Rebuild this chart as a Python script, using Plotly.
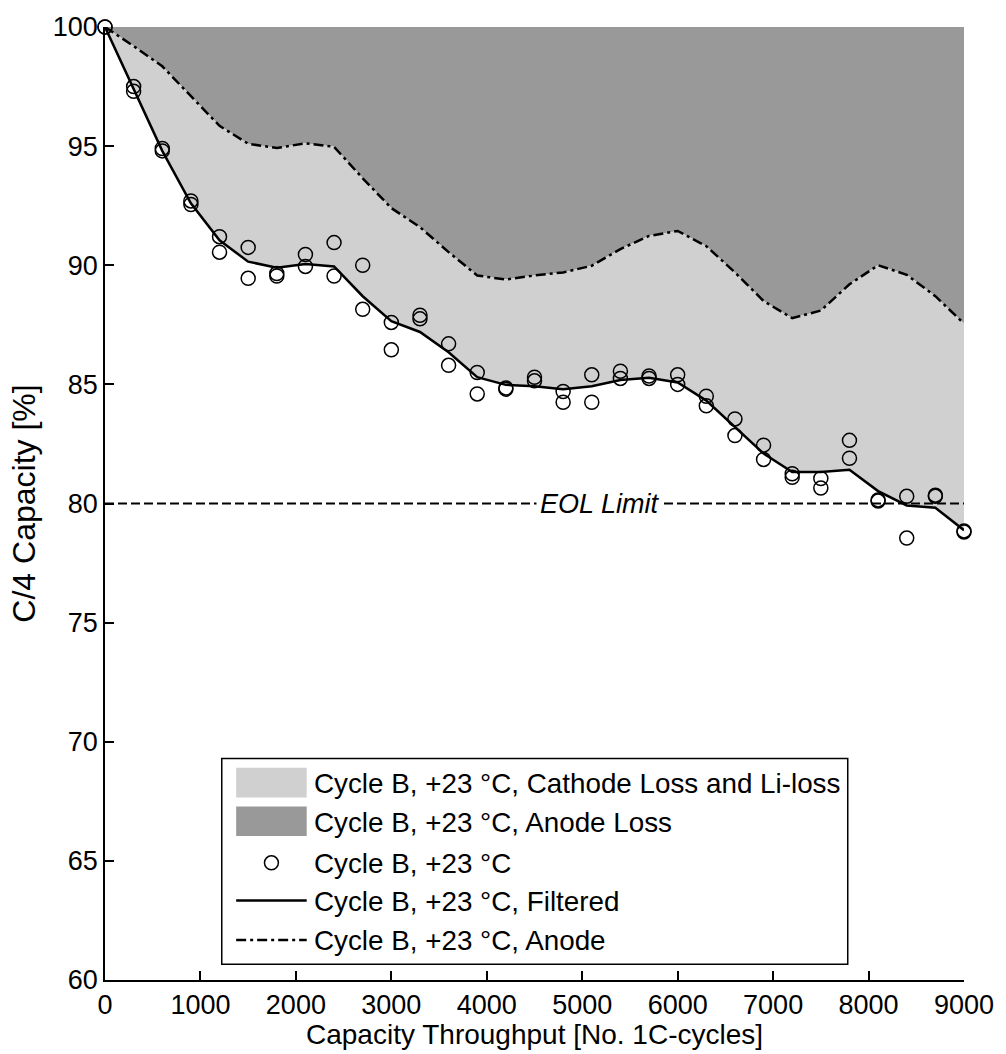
import plotly.graph_objects as go

# capacity throughput [No. 1C-cycles]
cycles = [0, 300, 600, 900, 1200, 1500, 1800, 2100, 2400, 2700, 3000, 3300, 3600, 3900, 4200,
          4500, 4800, 5100, 5400, 5700, 6000, 6300, 6600, 6900, 7200, 7500, 7800, 8100, 8400, 8700, 9000]

# measured C/4 capacity, two cells per check-up
meas_a = [100.0, 97.5, 94.9, 92.7, 91.2, 90.75, 89.65, 90.45, 90.95, 90.0, 87.6, 87.9, 86.7, 85.5, 84.85,
          85.3, 84.7, 85.4, 85.55, 85.35, 85.4, 84.5, 83.55, 82.45, 81.25, 81.05, 82.65, 80.15, 80.3, 80.35, 78.85]
meas_b = [100.0, 97.3, 94.8, 92.55, 90.55, 89.45, 89.55, 89.95, 89.55, 88.15, 86.45, 87.75, 85.8, 84.6, 84.8,
          85.15, 84.25, 84.25, 85.25, 85.25, 85.0, 84.1, 82.85, 81.85, 81.1, 80.65, 81.9, 80.1, 78.55, 80.3, 78.8]

# filtered capacity
filtered = [100.0, 97.4, 94.8, 92.6, 91.05, 90.15, 89.9, 90.05, 89.95, 88.7, 87.65, 87.2, 86.35, 85.3, 84.98,
            84.92, 84.8, 84.92, 85.18, 85.28, 85.08, 84.32, 83.2, 82.1, 81.32, 81.32, 81.42, 80.52, 79.92, 79.82, 78.88]

# anode capacity
anode = [100.0, 99.2, 98.35, 97.1, 95.85, 95.1, 94.92, 95.12, 94.97, 93.65, 92.4, 91.6, 90.55, 89.57, 89.4,
         89.57, 89.7, 89.98, 90.68, 91.23, 91.44, 90.8, 89.7, 88.5, 87.78, 88.1, 89.2, 90.0, 89.6, 88.7, 87.55]

top_capacity = [100.0] * len(cycles)
eol_x = [0, 9000]
eol_y = [80, 80]

label = 'Cycle B, +23 °C'
legend_names = [label + ', Cathode Loss and Li-loss', label + ', Anode Loss', label,
                label + ', Filtered', label + ', Anode']

LIGHT = '#d0d0d0'
DARK = '#999999'
DASHDOT = '10px,4px,3px,4px'
tick_font = dict(family='Arial', size=27, color='black')
legend_font = dict(family='Arial', size=27.8, color='black')
xtitle_font = dict(family='Arial', size=28, color='black')
ytitle_font = dict(family='Arial', size=32, color='black')

W, H = 1006, 1054
L, R, T, B = 105, 36.5, 17, 73.5


# pixel -> paper helpers for the hand made legend
def px(x):
    return (x - L) / (W - L - R)


def py(y):
    return (H - B - y) / (H - B - T)


fig = go.Figure()

# upper bound for the anode loss band
fig.add_trace(go.Scatter(x=cycles, y=top_capacity, mode='lines', line=dict(width=0),
                         showlegend=False, hoverinfo='skip'))
fig.add_trace(go.Scatter(x=cycles, y=anode, mode='lines', line=dict(width=0),
                         fill='tonexty', fillcolor=DARK, showlegend=False))
fig.add_trace(go.Scatter(x=cycles, y=filtered, mode='lines', line=dict(width=0),
                         fill='tonexty', fillcolor=LIGHT, showlegend=False))

fig.add_trace(go.Scatter(x=eol_x, y=eol_y, mode='lines', line=dict(color='black', width=2, dash='9px,4px'),
                         showlegend=False, hoverinfo='skip'))

fig.add_trace(go.Scatter(x=cycles + cycles, y=meas_a + meas_b, mode='markers',
                         marker=dict(symbol='circle-open', size=14, color='black', line=dict(width=1.5)),
                         cliponaxis=False, showlegend=False))
fig.add_trace(go.Scatter(x=cycles, y=filtered, mode='lines', line=dict(color='black', width=2.5),
                         showlegend=False))
fig.add_trace(go.Scatter(x=cycles, y=anode, mode='lines',
                         line=dict(color='black', width=2.5, dash=DASHDOT), showlegend=False))

fig.add_annotation(x=5185, y=80, text='<i>EOL Limit</i>', showarrow=False, bgcolor='white',
                   borderpad=3, font=tick_font)

# x axis title placed by hand so it sits inside the page
fig.add_annotation(xref='paper', yref='paper', x=0.5, y=py(1053), xanchor='center', yanchor='bottom',
                   text='Capacity Throughput [No. 1C-cycles]', showarrow=False, font=xtitle_font)

# legend box (drawn by hand so the patches look like the original)
shapes = [dict(type='rect', xref='paper', yref='paper', x0=px(222.5), x1=px(852.5), y0=py(964.5), y1=py(756.5),
               line=dict(color='black', width=1.5), fillcolor='white', layer='above')]
rows = [781, 820, 862, 900, 940]
shapes.append(dict(type='rect', xref='paper', yref='paper', x0=px(237), x1=px(308), y0=py(796), y1=py(766),
                   line=dict(width=0), fillcolor=LIGHT, layer='above'))
shapes.append(dict(type='rect', xref='paper', yref='paper', x0=px(237), x1=px(308), y0=py(835), y1=py(805),
                   line=dict(width=0), fillcolor=DARK, layer='above'))
shapes.append(dict(type='circle', xref='paper', yref='paper', x0=px(265.5), x1=px(279.5),
                   y0=py(rows[2] + 7), y1=py(rows[2] - 7), line=dict(color='black', width=1.5), layer='above'))
shapes.append(dict(type='line', xref='paper', yref='paper', x0=px(237), x1=px(308), y0=py(rows[3]), y1=py(rows[3]),
                   line=dict(color='black', width=2.5), layer='above'))
shapes.append(dict(type='line', xref='paper', yref='paper', x0=px(237), x1=px(308), y0=py(rows[4]), y1=py(rows[4]),
                   line=dict(color='black', width=2.5, dash=DASHDOT), layer='above'))
for name, row in zip(legend_names, rows):
    fig.add_annotation(xref='paper', yref='paper', x=px(313), y=py(row + 1), xanchor='left', yanchor='middle',
                       text=name, showarrow=False, font=legend_font)

axis = dict(showline=True, linecolor='black', linewidth=1.5, ticks='inside', ticklen=9,
            tickcolor='black', tickwidth=1.5, showgrid=False, zeroline=False, tickfont=tick_font)

fig.update_layout(
    width=W, height=H,
    margin=dict(l=L, r=R, t=T, b=B),
    plot_bgcolor='white', paper_bgcolor='white',
    font=tick_font,
    shapes=shapes,
    xaxis=dict(axis, range=[0, 9000], dtick=1000),
    yaxis=dict(axis, range=[60, 100], dtick=5,
               title=dict(text='C/4 Capacity [%]', standoff=8, font=ytitle_font)),
    showlegend=False,
)

# page margin off, so the 1006x1054 figure fills the window exactly
fig.write_html('out.html', config={'displayModeBar': False},
               post_script="document.body.style.margin='0';document.body.style.overflow='hidden';")
